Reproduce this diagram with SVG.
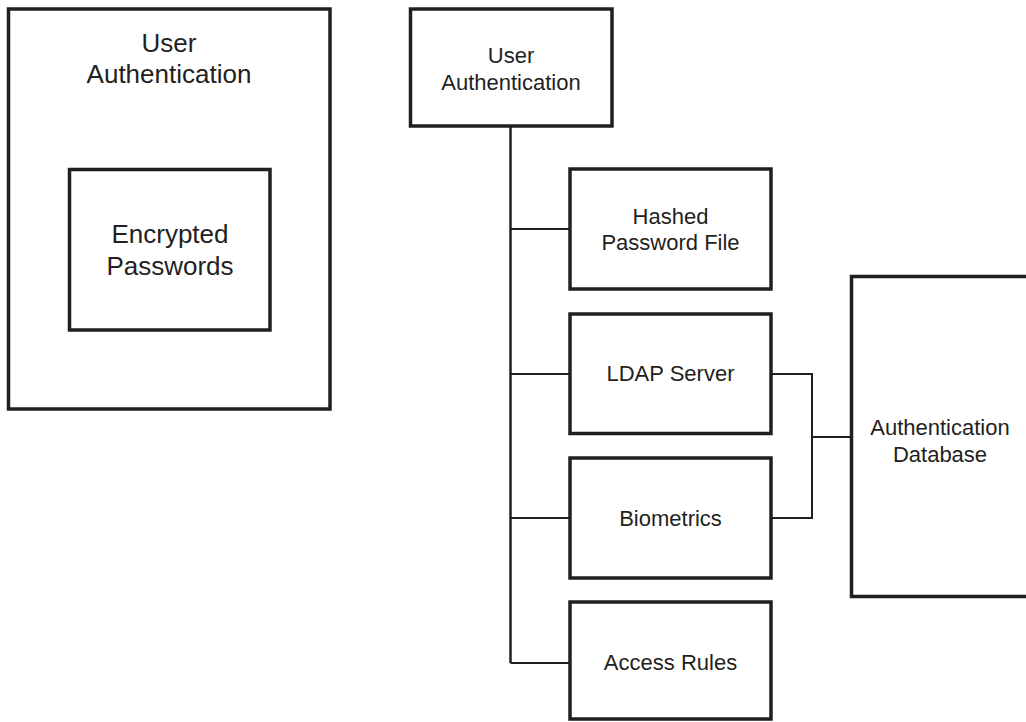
<svg xmlns="http://www.w3.org/2000/svg" width="1026" height="722" viewBox="0 0 1026 722">
  <style>
    .box { fill: #ffffff; stroke: #231f20; stroke-width: 3.5; }
    .wire { fill: none; stroke: #231f20; stroke-width: 2; }
    .trunk { fill: none; stroke: #231f20; stroke-width: 2.5; }
    .lbl { font-family: "Liberation Sans", Arial, sans-serif; fill: #231f20; text-anchor: middle; }
    .big { font-size: 26px; }
    .small { font-size: 22px; }
  </style>
  <rect width="1026" height="722" fill="#ffffff"/>

  <!-- Left: nested view -->
  <g id="ua-outer">
    <rect class="box" x="8.5" y="9" width="321.5" height="400"/>
    <text class="lbl big" x="169" y="52">User</text>
    <text class="lbl big" x="169" y="83">Authentication</text>
  </g>
  <g id="encrypted-passwords">
    <rect class="box" x="69.5" y="169.5" width="200.5" height="160.5"/>
    <text class="lbl big" x="170" y="243">Encrypted</text>
    <text class="lbl big" x="170" y="275">Passwords</text>
  </g>

  <!-- Right: connectors -->
  <g id="connectors">
    <path class="trunk" d="M510.5 126 V663"/>
    <path class="wire" d="M510.5 229 H570"/>
    <path class="wire" d="M510.5 374 H570"/>
    <path class="wire" d="M510.5 518 H570"/>
    <path class="wire" d="M510.5 663 H570"/>
    <path class="wire" d="M771 374 H812 V518 H771"/>
    <path class="wire" d="M812 437 H851.5"/>
  </g>

  <!-- Right: nodes -->
  <g id="ua-top">
    <rect class="box" x="410.5" y="9" width="201.5" height="117"/>
    <text class="lbl small" x="511" y="63">User</text>
    <text class="lbl small" x="511" y="90">Authentication</text>
  </g>
  <g id="hashed-password-file">
    <rect class="box" x="570" y="169" width="201" height="120"/>
    <text class="lbl small" x="670.5" y="224">Hashed</text>
    <text class="lbl small" x="670.5" y="250">Password File</text>
  </g>
  <g id="ldap-server">
    <rect class="box" x="570" y="314" width="201" height="119.5"/>
    <text class="lbl small" x="670.5" y="381">LDAP Server</text>
  </g>
  <g id="biometrics">
    <rect class="box" x="570" y="458" width="201" height="120"/>
    <text class="lbl small" x="670.5" y="526">Biometrics</text>
  </g>
  <g id="access-rules">
    <rect class="box" x="570" y="602" width="201" height="117"/>
    <text class="lbl small" x="670.5" y="670">Access Rules</text>
  </g>
  <g id="auth-database">
    <rect class="box" x="851.5" y="276.5" width="200" height="320"/>
    <text class="lbl small" x="940" y="435">Authentication</text>
    <text class="lbl small" x="940" y="462">Database</text>
  </g>
</svg>
